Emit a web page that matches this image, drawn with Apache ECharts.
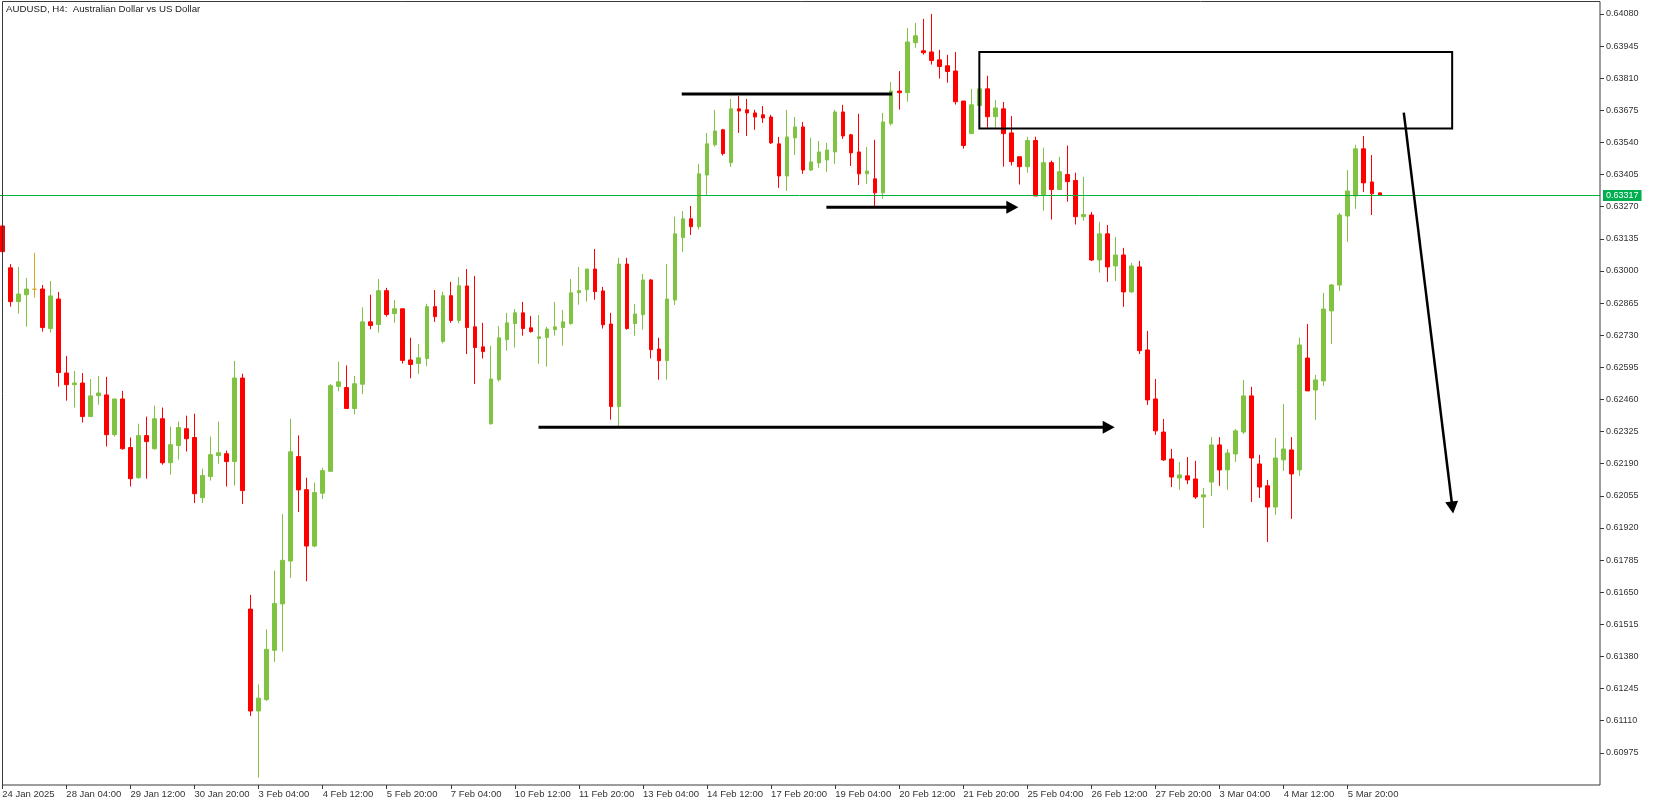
<!DOCTYPE html>
<html>
<head>
<meta charset="utf-8">
<script src="https://cdn.jsdelivr.net/npm/echarts/dist/echarts.min.js"></script>
<style>
html,body{margin:0;padding:0;background:#fff;}
#c{width:1653px;height:807px;}
</style>
</head>
<body>
<div id="c"></div>
<script>
// ---- data (AUDUSD H4) ----
const chartTitle = 'AUDUSD, H4:  Australian Dollar vs US Dollar';
const tickLabels = ['24 Jan 2025','28 Jan 04:00','29 Jan 12:00','30 Jan 20:00','3 Feb 04:00','4 Feb 12:00','5 Feb 20:00','7 Feb 04:00','10 Feb 12:00','11 Feb 20:00','13 Feb 04:00','14 Feb 12:00','17 Feb 20:00','19 Feb 04:00','20 Feb 12:00','21 Feb 20:00','25 Feb 04:00','26 Feb 12:00','27 Feb 20:00','3 Mar 04:00','4 Mar 12:00','5 Mar 20:00'];
const barsPerLabel = 8;
const slotCount = 200;

const opens = [0.63189,0.63013,0.62871,0.62900,0.62923,0.62924,0.62758,0.62882,0.62571,0.62522,
0.62529,0.62388,0.62476,0.62479,0.62312,0.62462,0.62258,0.62131,0.62308,0.62253,
0.62379,0.62194,0.62266,0.62337,0.62300,0.62047,0.62136,0.62224,0.62232,0.62199,
0.62550,0.61579,0.61151,0.61199,0.61406,0.61601,0.61781,0.62220,0.62081,0.61844,
0.62066,0.62158,0.62515,0.62510,0.62422,0.62524,0.62786,0.62775,0.62917,0.62821,
0.62841,0.62626,0.62611,0.62632,0.62850,0.62704,0.62896,0.62792,0.62937,0.62765,
0.62681,0.62358,0.62543,0.62711,0.62779,0.62824,0.62761,0.62716,0.62720,0.62753,
0.62762,0.62779,0.62909,0.62921,0.63008,0.62916,0.62777,0.62430,0.63029,0.62779,
0.62816,0.62962,0.62672,0.62623,0.62878,0.63140,0.63219,0.63186,0.63403,0.63530,
0.63593,0.63455,0.63681,0.63677,0.63664,0.63656,0.63647,0.63534,0.63399,0.63559,
0.63605,0.63424,0.63454,0.63466,0.63500,0.63668,0.63572,0.63500,0.63408,0.63387,
0.63328,0.63619,0.63756,0.63749,0.63959,0.63925,0.63920,0.63887,0.63862,0.63840,
0.63714,0.63577,0.63695,0.63765,0.63648,0.63681,0.63580,0.63480,0.63438,0.63548,
0.63321,0.63455,0.63342,0.63405,0.63380,0.63228,0.63235,0.63046,0.63156,0.63021,
0.63067,0.62912,0.63017,0.62668,0.62462,0.62323,0.62210,0.62130,0.62139,0.62126,
0.62050,0.62113,0.62269,0.62164,0.62231,0.62323,0.62475,0.62189,0.62097,0.62008,
0.62206,0.62248,0.62164,0.62634,0.62500,0.62538,0.62832,0.62941,0.63231,0.63315,
0.63513,0.63374,0.63328];
const highs = [0.63198,0.63029,0.63017,0.62971,0.63076,0.62941,0.62958,0.62912,0.62643,0.62580,
0.62571,0.62546,0.62559,0.62555,0.62462,0.62496,0.62300,0.62358,0.62388,0.62434,
0.62426,0.62346,0.62367,0.62392,0.62400,0.62169,0.62304,0.62367,0.62245,0.62622,
0.62568,0.61639,0.61263,0.61494,0.61741,0.61978,0.62379,0.62309,0.62131,0.62111,
0.62173,0.62525,0.62619,0.62603,0.62559,0.62847,0.62900,0.62966,0.62929,0.62878,
0.62841,0.62719,0.62693,0.62862,0.62920,0.62913,0.62954,0.62975,0.63008,0.62979,
0.62782,0.62685,0.62769,0.62824,0.62840,0.62870,0.62811,0.62815,0.62765,0.62870,
0.62836,0.62966,0.63017,0.63008,0.63092,0.62933,0.62824,0.63055,0.63055,0.62861,
0.62987,0.62966,0.62719,0.63029,0.63228,0.63252,0.63273,0.63450,0.63580,0.63677,
0.63597,0.63723,0.63735,0.63723,0.63677,0.63693,0.63656,0.63563,0.63677,0.63647,
0.63626,0.63559,0.63546,0.63538,0.63677,0.63698,0.63576,0.63660,0.63521,0.63551,
0.63664,0.63794,0.63840,0.64021,0.64042,0.64059,0.64080,0.63929,0.63908,0.63920,
0.63714,0.63765,0.63765,0.63820,0.63719,0.63710,0.63651,0.63480,0.63564,0.63564,
0.63518,0.63464,0.63480,0.63527,0.63413,0.63396,0.63248,0.63206,0.63193,0.63143,
0.63097,0.63034,0.63042,0.62748,0.62546,0.62378,0.62252,0.62197,0.62218,0.62202,
0.62088,0.62302,0.62302,0.62252,0.62336,0.62542,0.62513,0.62227,0.62122,0.62298,
0.62441,0.62302,0.62719,0.62777,0.62563,0.62908,0.62945,0.63244,0.63424,0.63530,
0.63567,0.63487,0.63328];
const lows = [0.63076,0.62850,0.62821,0.62766,0.62888,0.62745,0.62741,0.62514,0.62455,0.62426,
0.62363,0.62388,0.62438,0.62262,0.62304,0.62249,0.62094,0.62127,0.62127,0.62249,
0.62186,0.62144,0.62207,0.62241,0.62025,0.62025,0.62119,0.62190,0.62094,0.62098,
0.62021,0.61130,0.60871,0.61193,0.61357,0.61401,0.61710,0.61987,0.61696,0.61839,
0.62041,0.62158,0.62494,0.62422,0.62398,0.62482,0.62755,0.62741,0.62808,0.62782,
0.62611,0.62549,0.62568,0.62600,0.62786,0.62696,0.62782,0.62780,0.62651,0.62525,
0.62632,0.62354,0.62535,0.62665,0.62678,0.62728,0.62741,0.62610,0.62598,0.62728,
0.62686,0.62774,0.62858,0.62871,0.62879,0.62758,0.62375,0.62346,0.62753,0.62728,
0.62753,0.62632,0.62543,0.62543,0.62857,0.63080,0.63151,0.63174,0.63315,0.63522,
0.63485,0.63437,0.63580,0.63567,0.63593,0.63622,0.63534,0.63349,0.63336,0.63487,
0.63408,0.63420,0.63433,0.63416,0.63450,0.63555,0.63441,0.63361,0.63366,0.63273,
0.63303,0.63611,0.63678,0.63711,0.63938,0.63909,0.63867,0.63808,0.63791,0.63699,
0.63514,0.63577,0.63695,0.63602,0.63602,0.63438,0.63443,0.63363,0.63413,0.63315,
0.63253,0.63216,0.63342,0.63291,0.63195,0.63211,0.63042,0.62993,0.62954,0.62958,
0.62849,0.62908,0.62651,0.62437,0.62311,0.62202,0.62092,0.62080,0.62105,0.62042,
0.61920,0.62054,0.62097,0.62080,0.62197,0.62315,0.62029,0.62046,0.61861,0.61975,
0.62160,0.61958,0.62139,0.62496,0.62374,0.62517,0.62693,0.62916,0.63122,0.63261,
0.63332,0.63235,0.63315];
const closes = [0.63081,0.62871,0.62903,0.62924,0.62923,0.62762,0.62895,0.62573,0.62522,0.62529,
0.62388,0.62475,0.62487,0.62312,0.62462,0.62253,0.62127,0.62308,0.62283,0.62379,
0.62194,0.62270,0.62342,0.62295,0.62064,0.62140,0.62228,0.62236,0.62199,0.62550,
0.62077,0.61151,0.61205,0.61410,0.61603,0.61784,0.62240,0.62080,0.61844,0.62069,
0.62161,0.62518,0.62534,0.62422,0.62526,0.62786,0.62771,0.62917,0.62817,0.62841,
0.62624,0.62607,0.62635,0.62850,0.62808,0.62896,0.62792,0.62938,0.62762,0.62678,
0.62661,0.62546,0.62719,0.62782,0.62824,0.62758,0.62745,0.62723,0.62756,0.62765,
0.62786,0.62908,0.62917,0.63008,0.62913,0.62774,0.62430,0.63029,0.62758,0.62819,
0.62962,0.62669,0.62623,0.62882,0.63156,0.63219,0.63186,0.63408,0.63534,0.63588,
0.63493,0.63681,0.63672,0.63664,0.63647,0.63643,0.63538,0.63399,0.63563,0.63605,
0.63424,0.63458,0.63500,0.63508,0.63668,0.63567,0.63496,0.63408,0.63420,0.63328,
0.63626,0.63756,0.63749,0.63962,0.63988,0.63917,0.63884,0.63859,0.63838,0.63711,
0.63527,0.63698,0.63765,0.63648,0.63685,0.63577,0.63459,0.63438,0.63548,0.63315,
0.63455,0.63342,0.63417,0.63375,0.63228,0.63237,0.63046,0.63156,0.63017,0.63067,
0.62912,0.63021,0.62665,0.62458,0.62328,0.62206,0.62134,0.62143,0.62122,0.62050,
0.62059,0.62269,0.62164,0.62235,0.62328,0.62475,0.62214,0.62092,0.62008,0.62214,
0.62252,0.62147,0.62689,0.62496,0.62542,0.62840,0.62941,0.63235,0.63336,0.63513,
0.63370,0.63324,0.63317];

const currentPrice = [0.63317];
const priceTicks = {min: 0.60840, max: 0.64130, step: 0.00135};

// annotations in data units: [barIndex1, price1, barIndex2, price2]
const zoneBox = [[122, 0.63920, 181.04, 0.63598]];
const levelLines = [[84.84, 0.63743, 111.1, 0.63743]];
const arrowLines = [
  [102.9, 0.63268, 126.87, 0.63268],
  [66.96, 0.62343, 138.9, 0.62343],
  [175.0, 0.63665, 181.16, 0.61981]
];

// ---- build ----
const categories = [];
for (let i = 0; i < slotCount; i++) {
  const k = i / barsPerLabel;
  categories.push(i % barsPerLabel === 0 && k < tickLabels.length ? tickLabels[k] : '#' + i);
}
const candles = opens.map((o, i) => [o, closes[i], lows[i], highs[i]]);
const showIdx = (idx) => idx % barsPerLabel === 0 && idx / barsPerLabel < tickLabels.length;

function toPx(api, x, y) {
  const b = Math.floor(x);
  const c0 = api.coord([b, y]);
  const c1 = api.coord([b + 1, y]);
  return [c0[0] + (x - b) * (c1[0] - c0[0]), c0[1]];
}

const FONT = 'Liberation Sans';
const AX = '#3a3a3a';
const UP = '#80C342', DOWN = '#FF0000';

const chart = echarts.init(document.getElementById('c'), null, {renderer: 'canvas'});
chart.setOption({
  animation: false,
  backgroundColor: '#ffffff',
  title: {
    text: chartTitle, left: 1, top: -1,
    textStyle: {fontSize: 9.7, fontWeight: 'normal', color: '#222', fontFamily: FONT}
  },
  grid: {left: -1.7, right: 53, top: 2, bottom: 22, containLabel: false, outerBoundsMode: 'none'},
  xAxis: {
    type: 'category', data: categories, boundaryGap: true,
    axisLine: {show: false},
    axisTick: {show: true, alignWithLabel: true, interval: showIdx, length: 4, lineStyle: {color: AX}},
    axisLabel: {
      interval: showIdx, align: 'left', margin: 4, color: '#333', fontSize: 9.5, fontFamily: FONT,
      formatter: (v) => (v.charAt(0) === '#' ? '' : v)
    },
    splitLine: {show: false}
  },
  yAxis: {
    type: 'value', position: 'right', scale: true,
    min: priceTicks.min, max: priceTicks.max, interval: priceTicks.step,
    axisLine: {show: false},
    axisTick: {show: true, length: 4, lineStyle: {color: AX}},
    axisLabel: {showMinLabel: false, showMaxLabel: false, margin: 6, color: '#333', fontSize: 9, fontFamily: FONT,
      formatter: (v) => v.toFixed(5)},
    splitLine: {show: false}
  },
  graphic: [{
    type: 'rect', silent: true, z: 100,
    shape: {x: 2.5, y: 1.5, width: 1597.5, height: 783.5},
    style: {fill: 'none', stroke: AX, lineWidth: 1}
  }],
  series: [
    {
      type: 'candlestick', data: candles, barWidth: 4,
      itemStyle: {color: UP, color0: DOWN, borderColor: UP, borderColor0: DOWN, borderColorDoji: '#DAA520', borderWidth: 1},
      markLine: {
        silent: true, symbol: ['none', 'none'], animation: false, precision: 5,
        lineStyle: {color: '#00B33C', width: 1, type: 'solid'},
        label: {show: true, position: 'end', distance: 3, color: '#fff', backgroundColor: '#00B050',
          padding: [1, 3, 1, 3], fontSize: 9, fontFamily: FONT, formatter: (p) => Number(p.value).toFixed(5)},
        data: currentPrice.map(v => ({yAxis: v}))
      },
      z: 2
    },
    {
      type: 'custom', data: zoneBox, silent: true, z: 10,
      encode: {x: [0, 2], y: [1, 3]},
      renderItem: (params, api) => {
        const a = toPx(api, api.value(0), api.value(1));
        const b = toPx(api, api.value(2), api.value(3));
        return {type: 'rect', shape: {x: a[0], y: a[1], width: b[0] - a[0], height: b[1] - a[1]},
          style: {fill: 'none', stroke: '#000', lineWidth: 2}};
      }
    },
    {
      type: 'custom', data: levelLines, silent: true, z: 10,
      encode: {x: [0, 2], y: [1, 3]},
      renderItem: (params, api) => {
        const a = toPx(api, api.value(0), api.value(1));
        const b = toPx(api, api.value(2), api.value(3));
        return {type: 'line', shape: {x1: a[0], y1: a[1], x2: b[0], y2: b[1]},
          style: {stroke: '#000', lineWidth: 3}};
      }
    },
    {
      type: 'custom', data: arrowLines, silent: true, z: 10,
      encode: {x: [0, 2], y: [1, 3]},
      renderItem: (params, api) => {
        const a = toPx(api, api.value(0), api.value(1));
        const b = toPx(api, api.value(2), api.value(3));
        const dx = b[0] - a[0], dy = b[1] - a[1];
        const len = Math.hypot(dx, dy), ux = dx / len, uy = dy / len;
        const L = 12, W = 6.5;
        const base = [b[0] - ux * L, b[1] - uy * L];
        const left = [base[0] - uy * W, base[1] + ux * W];
        const right = [base[0] + uy * W, base[1] - ux * W];
        const lw = Math.abs(dy) > Math.abs(dx) ? 2.5 : 3;
        return {type: 'group', children: [
          {type: 'line', shape: {x1: a[0], y1: a[1], x2: base[0] + ux * 2, y2: base[1] + uy * 2},
            style: {stroke: '#000', lineWidth: lw}},
          {type: 'polygon', shape: {points: [b, left, right]}, style: {fill: '#000'}}
        ]};
      }
    }
  ]
});
</script>
</body>
</html>
